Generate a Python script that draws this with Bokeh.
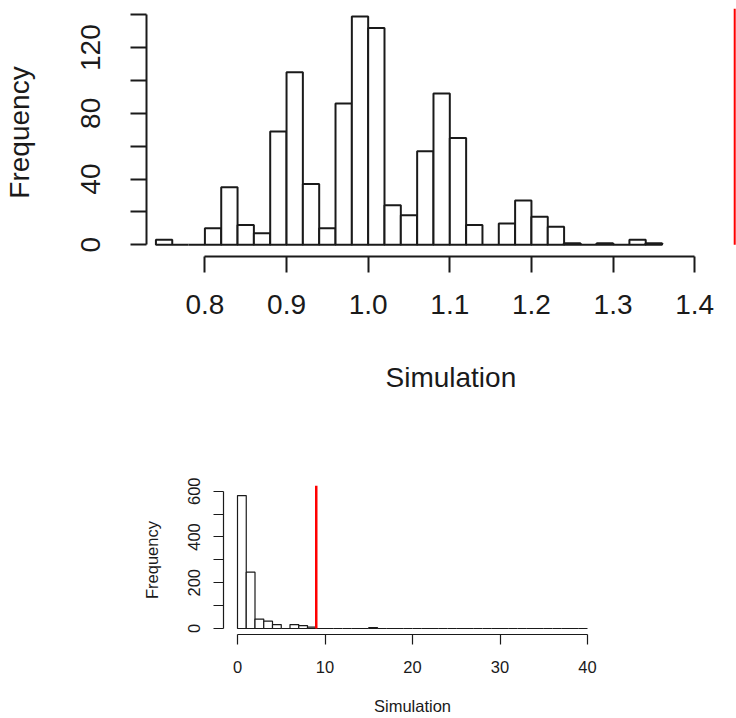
from bokeh.plotting import figure
from bokeh.models import FixedTicker, Range1d, Title
from bokeh.embed import file_html
from bokeh.resources import INLINE

# ---------------- data: top histogram ----------------
top_edges = [0.74, 0.76, 0.78, 0.80, 0.82, 0.84, 0.86, 0.88, 0.90, 0.92, 0.94,
             0.96, 0.98, 1.00, 1.02, 1.04, 1.06, 1.08, 1.10, 1.12, 1.14, 1.16,
             1.18, 1.20, 1.22, 1.24, 1.26, 1.28, 1.30, 1.32, 1.34, 1.36]
top_counts = [3, 0, 0, 10, 35, 12, 7, 69, 105, 37, 10,
              86, 139, 132, 24, 18, 57, 92, 65, 12, 0, 13,
              27, 17, 11, 1, 0, 1, 0, 3, 1]
top_obs = 1.449
top_obs_height = 143.8
top_xticks = [0.8, 0.9, 1.0, 1.1, 1.2, 1.3, 1.4]
top_xlabels = ["0.8", "0.9", "1.0", "1.1", "1.2", "1.3", "1.4"]
top_yticks = [0, 20, 40, 60, 80, 100, 120, 140]
top_ylabels = ["0", "", "40", "", "80", "", "120", ""]

# ---------------- data: bottom histogram ----------------
bot_edges = [0, 1, 2, 3, 4, 5, 6, 7, 8, 9, 10, 11, 12, 13, 14, 15, 16, 17, 18, 19, 20,
             21, 22, 23, 24, 25, 26, 27, 28, 29, 30, 31, 32, 33, 34, 35, 36, 37, 38, 39, 40]
bot_counts = [581, 246, 41, 32, 17, 0, 17, 13, 6, 0, 0, 0, 0, 0, 0, 4, 0, 0, 0, 0,
              0, 0, 0, 0, 0, 0, 0, 0, 0, 0, 0, 0, 0, 0, 0, 0, 0, 0, 0, 0]
bot_obs = 9
bot_obs_height = 625
bot_xticks = [0, 10, 20, 30, 40]
bot_xlabels = ["0", "10", "20", "30", "40"]
bot_yticks = [0, 100, 200, 300, 400, 500, 600]
bot_ylabels = ["0", "", "200", "", "400", "", "600"]

FONT = "Liberation Sans"
INK = "#1a1a1a"


def style_axes(p, size, lw, tick, xstand, ystand, xticks, xlabels, yticks, ylabels, xb, yb):
    for ax, ticks, labels, b, (ls, als) in ((p.xaxis[0], xticks, xlabels, xb, xstand),
                                             (p.yaxis[0], yticks, ylabels, yb, ystand)):
        ax.ticker = FixedTicker(ticks=ticks)
        ax.major_label_overrides = {t: l for t, l in zip(ticks, labels)}
        ax.bounds = b
        ax.axis_line_color = INK
        ax.axis_line_width = lw
        ax.major_tick_line_color = INK
        ax.major_tick_line_width = lw
        ax.major_tick_out = tick
        ax.major_tick_in = 0
        ax.minor_tick_out = 0
        ax.minor_tick_in = 0
        ax.minor_tick_line_color = None
        ax.major_label_text_font = FONT
        ax.major_label_text_font_size = size
        ax.major_label_text_color = INK
        ax.major_label_standoff = ls
        ax.axis_label_text_font = FONT
        ax.axis_label_text_font_size = size
        ax.axis_label_text_font_style = "normal"
        ax.axis_label_text_color = INK
        ax.axis_label_standoff = als
    p.yaxis[0].major_label_orientation = "vertical"
    p.yaxis[0].axis_label = "Frequency"
    p.grid.visible = False
    p.outline_line_color = None


# ---------------- top figure ----------------
p1 = figure(width=736, height=450, output_backend="svg", toolbar_location=None,
            x_range=Range1d(0.72846, 1.45119), y_range=Range1d(-7.12, 143.8),
            min_border_left=143, min_border_right=0, min_border_top=8, min_border_bottom=194)
p1.quad(left=top_edges[:-1], right=top_edges[1:], bottom=0, top=top_counts,
        fill_color="white", line_color=INK, line_width=2)
p1.segment(x0=[top_obs], y0=[0], x1=[top_obs], y1=[top_obs_height], line_color="red", line_width=2)
style_axes(p1, "28px", 2, 16, (22, 44), (30, 44), top_xticks, top_xlabels, top_yticks, top_ylabels,
           (top_xticks[0], top_xticks[-1]), (top_yticks[0], top_yticks[-1]))
# R centres the x title on its (wider, cropped) plot region -> placed a little right of frame centre
p1.add_layout(Title(text="Simulation", align="left", offset=239, standoff=87,
                    text_font=FONT, text_font_size="28px", text_font_style="normal",
                    text_color=INK), "below")

# ---------------- bottom figure ----------------
p2 = figure(width=736, height=268, output_backend="svg", toolbar_location=None,
            x_range=Range1d(-1.6, 41.6), y_range=Range1d(-26.2, bot_obs_height),
            min_border_left=223, min_border_right=135, min_border_top=35, min_border_bottom=84)
p2.quad(left=bot_edges[:-1], right=bot_edges[1:], bottom=0, top=bot_counts,
        fill_color="white", line_color=INK, line_width=1.2)
p2.segment(x0=[bot_obs], y0=[0], x1=[bot_obs], y1=[bot_obs_height], line_color="red", line_width=2.5)
style_axes(p2, "16.5px", 1.2, 10, (16, 21), (13, 25), bot_xticks, bot_xlabels, bot_yticks, bot_ylabels,
           (bot_xticks[0], bot_xticks[-1]), (bot_yticks[0], bot_yticks[-1]))
p2.xaxis[0].axis_label = "Simulation"

open("out.html", "w").write(file_html([p1, p2], INLINE))
